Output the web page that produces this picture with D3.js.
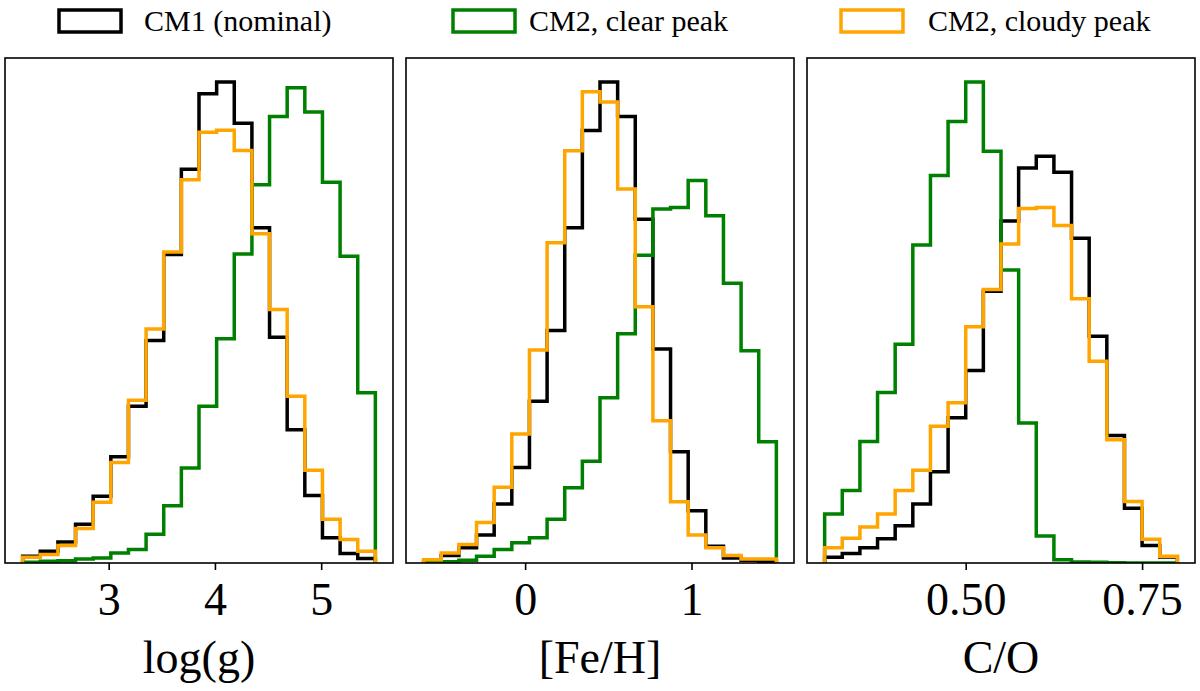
<!DOCTYPE html>
<html>
<head>
<meta charset="utf-8">
<script src="https://cdn.jsdelivr.net/npm/d3@7"></script>
<style>
  body { margin: 0; background: #fff; }
  text { font-family: "Liberation Serif", "DejaVu Serif", serif; fill: #000; }
</style>
</head>
<body>
<div id="chart"></div>
<script>
// legend / series
const seriesNames = ["CM1 (nominal)", "CM2, clear peak", "CM2, cloudy peak"];
const seriesColors = ["#000000", "#008000", "#ffa500"];

// log(g): 20 bins between these edges
const loggRange = [2.19, 5.51];
const loggCM1    = [20, 35, 62, 115, 198, 315, 465, 660, 915, 1168, 1392, 1427, 1305, 995, 670, 395, 200, 75, 28, 13];
const loggClear  = [2, 5, 7, 12, 15, 30, 40, 85, 170, 282, 465, 665, 917, 1122, 1325, 1410, 1338, 1130, 910, 505];
const loggCloudy = [17, 25, 52, 102, 180, 298, 483, 694, 923, 1137, 1278, 1284, 1224, 977, 752, 495, 275, 130, 70, 35];
const loggTicks = [3, 4, 5];
const loggTickLabels = ["3", "4", "5"];

// [Fe/H]
const fehRange = [-0.61, 1.51];
const fehCM1    = [5, 22, 45, 83, 175, 283, 480, 690, 995, 1283, 1427, 1325, 1020, 635, 330, 155, 50, 15, 8, 5];
const fehClear  = [1, 4, 8, 20, 40, 60, 75, 130, 223, 302, 490, 680, 913, 1050, 1055, 1135, 1030, 830, 630, 360];
const fehCloudy = [10, 30, 55, 120, 225, 383, 632, 950, 1223, 1398, 1368, 1110, 760, 422, 182, 83, 45, 22, 12, 12];
const fehTicks = [0, 1];
const fehTickLabels = ["0", "1"];

// C/O
const coRange = [0.30, 0.80];
const coCM1    = [17, 28, 45, 72, 110, 175, 270, 430, 570, 805, 1013, 1170, 1205, 1158, 962, 672, 378, 162, 52, 18];
const coClear  = [145, 215, 360, 505, 648, 942, 1148, 1308, 1425, 1220, 868, 415, 80, 10, 3, 2, 1, 0, 0, 0];
const coCloudy = [45, 73, 107, 145, 215, 275, 405, 475, 700, 810, 945, 1050, 1053, 1000, 783, 598, 365, 182, 70, 20];
const coTicks = [0.50, 0.75];
const coTickLabels = ["0.50", "0.75"];

const panels = [
  { label: "log(g)", range: loggRange, series: [loggCM1, loggClear, loggCloudy], ticks: loggTicks, tickLabels: loggTickLabels },
  { label: "[Fe/H]", range: fehRange, series: [fehCM1, fehClear, fehCloudy], ticks: fehTicks, tickLabels: fehTickLabels },
  { label: "C/O", range: coRange, series: [coCM1, coClear, coCloudy], ticks: coTicks, tickLabels: coTickLabels }
];

const width = 1200, height = 691;
const panelLeft = [5, 406, 807];
const panelW = 388;
const plotTop = 58, plotBottom = 563;

const svg = d3.select("#chart")
  .append("svg")
  .attr("width", width)
  .attr("height", height);

panels.forEach((p, k) => {
  const x0 = panelLeft[k];
  const span = p.range[1] - p.range[0];
  const nBins = p.series[0].length;
  const edges = d3.range(nBins + 1).map(i => p.range[0] + i * span / nBins);

  // matplotlib-like 5% x margin, y from 0 to 1.05*max
  const x = d3.scaleLinear()
    .domain([p.range[0] - 0.05 * span, p.range[1] + 0.05 * span])
    .range([x0, x0 + panelW]);
  const yMax = d3.max(p.series, s => d3.max(s)) * 1.05;
  const y = d3.scaleLinear().domain([0, yMax]).range([plotBottom, plotTop]);

  const g = svg.append("g");

  g.append("clipPath")
    .attr("id", "clip" + k)
    .append("rect")
    .attr("x", x0).attr("y", plotTop)
    .attr("width", panelW).attr("height", plotBottom - plotTop);

  const line = d3.line()
    .x(d => x(d[0]))
    .y(d => y(d[1]))
    .curve(d3.curveStepAfter);

  p.series.forEach((counts, s) => {
    const pts = [[edges[0], 0]];
    counts.forEach((c, i) => pts.push([edges[i], c]));
    pts.push([edges[nBins], 0]);
    g.append("path")
      .attr("clip-path", `url(#clip${k})`)
      .attr("d", line(pts))
      .attr("fill", "none")
      .attr("stroke", seriesColors[s])
      .attr("stroke-width", 3.5)
      .attr("stroke-linejoin", "miter");
  });

  // frame
  g.append("rect")
    .attr("x", x0).attr("y", plotTop)
    .attr("width", panelW).attr("height", plotBottom - plotTop)
    .attr("fill", "none")
    .attr("stroke", "#000")
    .attr("stroke-width", 1.6);

  const axis = g.append("g")
    .attr("transform", `translate(0, ${plotBottom})`)
    .call(d3.axisBottom(x)
      .tickValues(p.ticks)
      .tickFormat((d, i) => p.tickLabels[i])
      .tickSize(7)
      .tickPadding(12));
  axis.select(".domain").remove();
  axis.selectAll(".tick line").attr("stroke", "#000").attr("stroke-width", 1.6);
  axis.selectAll(".tick text")
    .attr("font-family", "Liberation Serif, DejaVu Serif, serif")
    .attr("font-size", 46)
    .attr("fill", "#000");

  g.append("text")
    .attr("x", x0 + panelW / 2)
    .attr("y", 673)
    .attr("text-anchor", "middle")
    .attr("font-size", 46)
    .text(p.label);
});

// legend across the top
const legendPatchX = [59, 453, 841];
const legendTextX = [144, 529, 928];
seriesNames.forEach((name, i) => {
  svg.append("rect")
    .attr("x", legendPatchX[i]).attr("y", 10)
    .attr("width", 62).attr("height", 22)
    .attr("fill", "none")
    .attr("stroke", seriesColors[i])
    .attr("stroke-width", 3.5);
  svg.append("text")
    .attr("x", legendTextX[i])
    .attr("y", 31)
    .attr("font-size", 30)
    .text(name);
});
</script>
</body>
</html>
